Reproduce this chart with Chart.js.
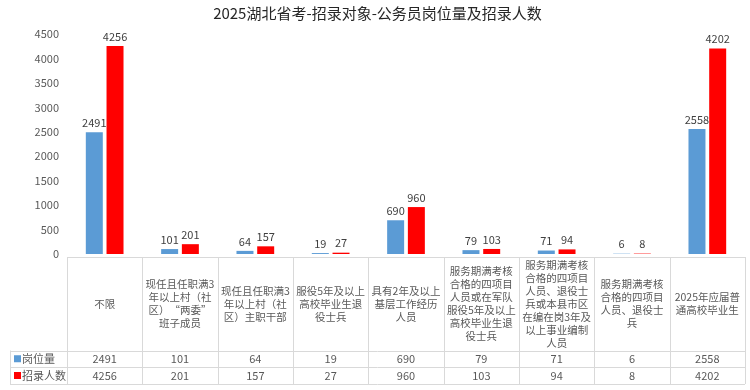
<!DOCTYPE html>
<html>
<head>
<meta charset="utf-8">
<script src="https://cdn.jsdelivr.net/npm/chart.js@4.4.1/dist/chart.umd.min.js"></script>
<style>
  html, body { margin: 0; padding: 0; background: #fff; }
  #wrap { width: 750px; height: 390px; }
</style>
</head>
<body>
<div id="wrap"><canvas id="bar_chart" width="750" height="390"></canvas></div>
<script>
// chart data
const chartTitle = '2025湖北省考-招录对象-公务员岗位量及招录人数';
const categories = [
  ['不限'],
  ['现任且任职满3', '年以上村（社', '区）“两委”', '班子成员'],
  ['现任且任职满3', '年以上村（社', '区）主职干部'],
  ['服役5年及以上', '高校毕业生退', '役士兵'],
  ['具有2年及以上', '基层工作经历', '人员'],
  ['服务期满考核', '合格的四项目', '人员或在军队', '服役5年及以上', '高校毕业生退', '役士兵'],
  ['服务期满考核', '合格的四项目', '人员、退役士', '兵或本县市区', '在编在岗3年及', '以上事业编制', '人员'],
  ['服务期满考核', '合格的四项目', '人员、退役士', '兵'],
  ['2025年应届普', '通高校毕业生']
];
const seriesNames = ['岗位量', '招录人数'];
const posts = [2491, 101, 64, 19, 690, 79, 71, 6, 2558];
const hires = [4256, 201, 157, 27, 960, 103, 94, 8, 4202];
const yMax = 4500;
const yStep = 500;

const colors = ['#5B9BD5', '#FF0000'];
const textColor = '#595959';
const lineColor = '#D9D9D9';
const fontFamily = '"Noto Sans CJK SC", "Noto Sans", sans-serif';

// value labels above the bars
const valueLabels = {
  id: 'valueLabels',
  afterDatasetsDraw(chart) {
    const ctx = chart.ctx;
    ctx.save();
    ctx.font = '11px ' + fontFamily;
    ctx.fillStyle = '#404040';
    ctx.textAlign = 'center';
    ctx.textBaseline = 'bottom';
    chart.data.datasets.forEach((ds, i) => {
      chart.getDatasetMeta(i).data.forEach((bar, j) => {
        ctx.fillText(String(ds.data[j]), bar.x, bar.y - 4);
      });
    });
    ctx.restore();
  }
};

// data table under the plot, columns follow the x scale
const dataTable = {
  id: 'dataTable',
  afterDraw(chart) {
    const ctx = chart.ctx;
    const xs = chart.scales.x;
    const n = categories.length;
    const colW = (xs.right - xs.left) / n;
    const legendLeft = 10;
    const top = 257, row1 = 350.5, row2 = 367, bottom = 384;

    ctx.save();
    ctx.strokeStyle = lineColor;
    ctx.lineWidth = 1;
    ctx.beginPath();
    ctx.moveTo(xs.left, top + 0.5); ctx.lineTo(xs.right, top + 0.5);
    [row1, row2, bottom].forEach(y => {
      ctx.moveTo(legendLeft, Math.round(y) + 0.5);
      ctx.lineTo(xs.right, Math.round(y) + 0.5);
    });
    for (let i = 0; i <= n; i++) {
      const x = Math.round(xs.left + i * colW) + 0.5;
      ctx.moveTo(x, top); ctx.lineTo(x, bottom);
    }
    ctx.moveTo(legendLeft + 0.5, row1); ctx.lineTo(legendLeft + 0.5, bottom);
    ctx.stroke();

    ctx.fillStyle = textColor;
    ctx.textAlign = 'center';
    ctx.textBaseline = 'middle';

    // category names
    ctx.font = '10.5px ' + fontFamily;
    const lh = 13;
    categories.forEach((lines, i) => {
      const cx = xs.left + (i + 0.5) * colW;
      const cy = (top + row1) / 2;
      const y0 = cy - (lines.length - 1) * lh / 2;
      lines.forEach((t, k) => ctx.fillText(t, cx, y0 + k * lh));
    });

    // values
    ctx.font = '11px ' + fontFamily;
    const rows = [[posts, (row1 + row2) / 2], [hires, (row2 + bottom) / 2]];
    rows.forEach(([vals, cy], r) => {
      vals.forEach((v, i) => {
        ctx.fillText(String(v), xs.left + (i + 0.5) * colW, cy);
      });
      ctx.fillStyle = colors[r];
      ctx.fillRect(14, cy - 3.5, 7, 7);
      ctx.fillStyle = textColor;
      ctx.textAlign = 'left';
      ctx.fillText(seriesNames[r], 22, cy);
      ctx.textAlign = 'center';
    });
    ctx.restore();
  }
};

const ctx = document.getElementById('bar_chart').getContext('2d');
new Chart(ctx, {
  type: 'bar',
  data: {
    labels: categories,
    datasets: [
      { label: seriesNames[0], data: posts, backgroundColor: colors[0] },
      { label: seriesNames[1], data: hires, backgroundColor: colors[1] }
    ]
  },
  options: {
    responsive: false,
    animation: false,
    devicePixelRatio: 1,
    categoryPercentage: 0.55,
    barPercentage: 0.82,
    layout: { padding: { left: 10, right: 5, bottom: 136, top: 0 } },
    plugins: {
      legend: { display: false },
      tooltip: { enabled: false },
      title: {
        display: true,
        text: chartTitle,
        color: '#262626',
        font: { family: fontFamily, size: 15, weight: 'normal' },
        padding: { top: 4, bottom: 12 }
      }
    },
    scales: {
      x: { display: false },
      y: {
        min: 0,
        max: yMax,
        grid: { display: false },
        border: { display: false },
        ticks: {
          stepSize: yStep,
          color: textColor,
          font: { family: fontFamily, size: 11 },
          padding: 0,
          callback: v => String(v)
        },
        afterFit(scale) { scale.width = 57; }
      }
    }
  },
  plugins: [valueLabels, dataTable]
});
</script>
</body>
</html>
